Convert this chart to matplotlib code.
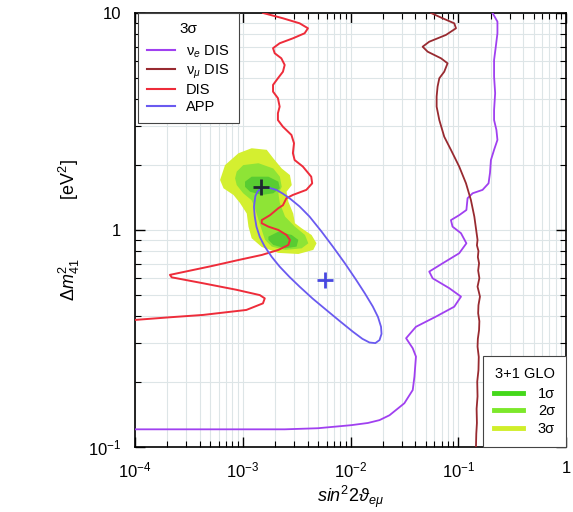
import matplotlib
matplotlib.use("Agg")
import matplotlib.pyplot as plt
from matplotlib.lines import Line2D

plt.rcParams['font.family'] = ['Liberation Sans', 'DejaVu Sans']
plt.rcParams['mathtext.fontset'] = 'custom'
plt.rcParams['mathtext.rm'] = 'Liberation Sans'
plt.rcParams['mathtext.it'] = 'Liberation Sans:italic'
plt.rcParams['mathtext.bf'] = 'Liberation Sans:bold'

# ---------------- data (sin^2 2theta, Delta m^2) ----------------
dis_x = [1.54e-3, 2.36e-3, 3.37e-3, 4.03e-3, 3.75e-3, 2.92e-3, 2.20e-3, 1.91e-3, 1.98e-3, 2.28e-3,
         2.45e-3, 2.36e-3, 2.12e-3, 1.91e-3, 1.91e-3, 2.12e-3, 2.20e-3, 2.12e-3, 2.12e-3, 2.36e-3,
         2.83e-3, 2.99e-3, 2.92e-3, 3.03e-3, 3.61e-3, 4.32e-3, 4.41e-3, 3.89e-3, 2.92e-3, 2.54e-3,
         2.36e-3, 2.14e-3, 1.79e-3, 1.50e-3, 1.50e-3, 1.73e-3, 2.14e-3, 2.55e-3, 2.74e-3, 2.65e-3,
         2.14e-3, 1.50e-3, 9.12e-4, 5.16e-4, 3.72e-4, 2.11e-4, 2.19e-4, 4.29e-4, 8.75e-4, 1.44e-3,
         1.60e-3, 1.54e-3, 1.08e-3, 4.29e-4, 2.11e-4, 1.0e-4]
dis_y = [10.0, 9.45, 8.96, 8.50, 8.06, 7.64, 7.25, 6.88, 6.52, 6.18,
         5.76, 5.36, 5.00, 4.66, 4.34, 4.05, 3.70, 3.45, 3.21, 2.99,
         2.74, 2.51, 2.26, 2.10, 1.96, 1.76, 1.64, 1.53, 1.45, 1.40,
         1.30, 1.26, 1.17, 1.11, 1.074, 1.036, 1.0, 0.948, 0.90, 0.853,
         0.809, 0.767, 0.727, 0.682, 0.659, 0.621, 0.605, 0.568, 0.530, 0.501,
         0.484, 0.459, 0.428, 0.406, 0.396, 0.385]

numu_x = [0.0558, 0.0716, 0.0918, 0.0953, 0.0769, 0.0538, 0.0467, 0.0520, 0.0692, 0.0796,
          0.0741, 0.0667, 0.0643, 0.0630, 0.0630, 0.0667, 0.0741, 0.0855, 0.102, 0.118,
          0.131, 0.141, 0.151, 0.149, 0.154, 0.152, 0.156, 0.153, 0.157, 0.151,
          0.155, 0.159, 0.154, 0.153, 0.157, 0.156, 0.152, 0.151, 0.155, 0.154,
          0.150, 0.151, 0.148, 0.149, 0.147, 0.146]
numu_y = [10.0, 9.45, 8.96, 8.50, 7.92, 7.37, 6.99, 6.63, 6.18, 5.86,
          5.36, 5.00, 4.58, 4.12, 3.70, 3.21, 2.69, 2.34, 1.96, 1.64,
          1.375, 1.152, 0.90, 0.85, 0.80, 0.75, 0.702, 0.65, 0.60, 0.548,
          0.52, 0.493, 0.45, 0.413, 0.38, 0.346, 0.315, 0.290, 0.26, 0.226,
          0.20, 0.171, 0.15, 0.129, 0.115, 0.10]

nue_x = [0.208, 0.231, 0.231, 0.223, 0.215, 0.215, 0.220, 0.215, 0.215, 0.226,
         0.231, 0.215, 0.201, 0.197, 0.191, 0.168, 0.136, 0.122, 0.119, 0.102,
         0.0855, 0.0885, 0.106, 0.119, 0.102, 0.0716, 0.0538, 0.0578, 0.0826, 0.106,
         0.0918, 0.0622, 0.0405, 0.0328, 0.0378, 0.0405, 0.0392, 0.0378, 0.0316, 0.0230,
         0.0186, 0.0145, 0.0101, 0.00711, 0.00498, 0.00245, 1.0e-4]
nue_y = [10.0, 9.12, 8.06, 6.99, 6.07, 5.09, 4.27, 3.57, 3.21, 2.89,
         2.60, 2.34, 2.10, 1.83, 1.64, 1.53, 1.476, 1.40, 1.236, 1.17,
         1.11, 1.036, 0.966, 0.868, 0.781, 0.702, 0.643, 0.599, 0.539, 0.493,
         0.443, 0.399, 0.358, 0.317, 0.285, 0.261, 0.211, 0.183, 0.159, 0.140,
         0.133, 0.129, 0.126, 0.124, 0.122, 0.1206, 0.1206]

app_x = [1.53e-3, 1.38e-3, 1.31e-3, 1.27e-3, 1.29e-3, 1.34e-3, 1.44e-3, 1.60e-3, 1.86e-3, 2.20e-3,
         2.72e-3, 3.37e-3, 4.45e-3, 5.96e-3, 7.91e-3, 1.05e-2, 1.29e-2, 1.50e-2, 1.70e-2, 1.86e-2,
         1.94e-2, 1.92e-2, 1.80e-2, 1.61e-2, 1.36e-2, 1.13e-2, 8.89e-3, 6.86e-3, 5.38e-3, 4.17e-3,
         3.37e-3, 2.72e-3, 2.34e-3, 2.05e-3, 1.78e-3, 1.53e-3]
app_y = [1.561, 1.512, 1.435, 1.280, 1.160, 1.036, 0.928, 0.838, 0.751, 0.678,
         0.607, 0.548, 0.483, 0.428, 0.381, 0.340, 0.315, 0.303, 0.301, 0.311,
         0.332, 0.358, 0.397, 0.444, 0.510, 0.588, 0.701, 0.838, 0.984, 1.152,
         1.283, 1.40, 1.473, 1.53, 1.561, 1.561]

bf_glo = (1.49e-3, 1.585)
bf_app = (5.74e-3, 0.588)

s3_x = [9.12e-4, 1.21e-3, 1.67e-3, 1.92e-3, 2.30e-3, 2.74e-3, 2.85e-3, 2.55e-3, 2.65e-3,
        2.94e-3, 3.05e-3, 3.52e-3, 4.35e-3, 4.84e-3, 4.51e-3, 3.28e-3, 2.14e-3, 1.50e-3,
        1.21e-3, 1.13e-3, 1.09e-3, 9.44e-4, 8.20e-4, 6.63e-4, 6.16e-4, 6.85e-4]
s3_y = [2.257, 2.38, 2.34, 2.14, 1.92, 1.79, 1.61, 1.50, 1.35,
        1.19, 1.074, 1.018, 0.948, 0.868, 0.809, 0.775, 0.784, 0.835,
        0.916, 1.036, 1.19, 1.33, 1.45, 1.556, 1.70, 1.99]

s2_x = [8.79e-4, 1.01e-3, 1.40e-3, 1.92e-3, 2.21e-3, 2.30e-3, 2.14e-3, 2.21e-3, 2.47e-3,
        3.05e-3, 3.78e-3, 4.06e-3, 3.52e-3, 2.47e-3, 1.86e-3, 1.61e-3, 1.50e-3, 1.40e-3,
        1.30e-3, 1.21e-3, 1.01e-3, 8.79e-4, 8.49e-4]
s2_y = [1.857, 1.99, 2.03, 1.92, 1.76, 1.58, 1.476, 1.33, 1.152,
        1.036, 0.948, 0.868, 0.823, 0.809, 0.838, 0.90, 1.0, 1.112,
        1.26, 1.37, 1.476, 1.61, 1.73]

s1a_x = [1.05e-3, 1.21e-3, 1.73e-3, 2.14e-3, 2.21e-3, 1.92e-3, 1.50e-3, 1.17e-3, 1.05e-3]
s1a_y = [1.67, 1.76, 1.76, 1.67, 1.556, 1.476, 1.45, 1.50, 1.58]
s1b_x = [1.73e-3, 2.14e-3, 2.85e-3, 3.28e-3, 3.16e-3, 2.47e-3, 1.92e-3, 1.73e-3]
s1b_y = [0.931, 0.982, 0.948, 0.90, 0.838, 0.823, 0.853, 0.90]

x_ticks = [1e-4, 1e-3, 1e-2, 1e-1, 1]
x_ticklabels = ["$10^{-4}$", "$10^{-3}$", "$10^{-2}$", "$10^{-1}$", "1"]
y_ticks = [0.1, 1, 10]
y_ticklabels = ["$10^{-1}$", "1", "10"]

leg1_labels = ["ν$_e$ DIS", "ν$_\\mu$ DIS", "DIS", "APP"]
leg2_labels = ["1σ", "2σ", "3σ"]

# ---------------- colors ----------------
c_dis = '#ee2c3a'
c_numu = '#982a30'
c_nue = '#a040f0'
c_app = '#6a5af0'
c_s3 = '#d4ef30'
c_s2 = '#8ee436'
c_s1 = '#58cc32'

fig = plt.figure(figsize=(5.73, 5.12), dpi=100)
ax = fig.add_axes([0.2356, 0.1270, 0.7522, 0.8477])
ax.set_xscale('log')
ax.set_yscale('log')
ax.set_xlim(1e-4, 1)
ax.set_ylim(0.1, 10)

ax.grid(True, which='both', color='#dde5e7', lw=0.8, zorder=0)
ax.set_axisbelow(True)

ax.fill(s3_x, s3_y, color=c_s3, lw=0, zorder=2)
ax.fill(s2_x, s2_y, color=c_s2, lw=0, zorder=3)
ax.fill(s1a_x, s1a_y, color=c_s1, lw=0, zorder=4)
ax.fill(s1b_x, s1b_y, color=c_s1, lw=0, zorder=4)

ax.plot(nue_x, nue_y, color=c_nue, lw=1.3, zorder=5)
ax.plot(numu_x, numu_y, color=c_numu, lw=1.3, zorder=5)
ax.plot(dis_x, dis_y, color=c_dis, lw=1.4, zorder=6)
ax.plot(app_x, app_y, color=c_app, lw=1.3, zorder=6)

ax.plot([bf_glo[0]], [bf_glo[1]], marker='+', ms=11, mew=2, color='#1e2a30', zorder=7)
ax.plot([bf_app[0]], [bf_app[1]], marker='+', ms=11, mew=2, color='#4848e0', zorder=7)

ax.set_xticks(x_ticks)
ax.set_xticklabels(x_ticklabels)
ax.set_yticks(y_ticks)
ax.set_yticklabels(y_ticklabels)
ax.tick_params(which='both', direction='in', top=True, right=True, labelsize=12, pad=10)
ax.tick_params(which='major', length=7, width=1)
ax.tick_params(which='minor', length=4, width=0.8)
for s in ax.spines.values():
    s.set_linewidth(1.2)

ax.set_xlabel(r"$sin^2 2\vartheta_{e\mu}$", fontsize=13, labelpad=2)
ax.set_ylabel(r"$\Delta m^2_{41}$            [eV$^2$]", fontsize=13, labelpad=4)

h1 = [Line2D([], [], color=c_nue, lw=1.5),
      Line2D([], [], color=c_numu, lw=1.5),
      Line2D([], [], color=c_dis, lw=1.5),
      Line2D([], [], color=c_app, lw=1.5)]
leg1 = ax.legend(h1, leg1_labels, title="3σ", loc='upper left', bbox_to_anchor=(0.007, 1.0),
                 borderaxespad=0, fontsize=10.5, title_fontsize=11, fancybox=False,
                 edgecolor='#444444', framealpha=1, handlelength=1.9, handletextpad=0.75,
                 labelspacing=0.18, borderpad=0.65)
leg1._legend_box.sep = 5
leg1.get_frame().set_linewidth(0.8)
ax.add_artist(leg1)

h2 = [Line2D([], [], color='#44d81a', lw=3.5),
      Line2D([], [], color='#7ce82a', lw=3.5),
      Line2D([], [], color='#d0ee2a', lw=3.5)]
leg2 = ax.legend(h2, leg2_labels, title="3+1 GLO", loc='lower right', bbox_to_anchor=(1.0, 0.0),
                 borderaxespad=0, fontsize=10.5, title_fontsize=10.5, fancybox=False,
                 edgecolor='#444444', framealpha=1, handlelength=2.0, handletextpad=1.0,
                 labelspacing=0.25, borderpad=0.75)
leg2._legend_box.sep = 4
leg2.get_frame().set_linewidth(0.8)
for lg in (leg1, leg2):
    lg.set_zorder(10)

fig.savefig("out.png", dpi=100)
